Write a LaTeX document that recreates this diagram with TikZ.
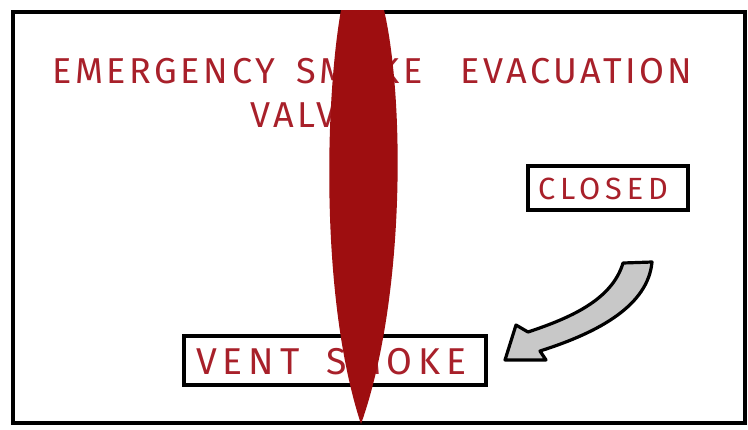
\documentclass[tikz,border=0pt]{standalone}
\usepackage{fontspec}
\setmainfont{Fira Sans}
\definecolor{inkred}{HTML}{A8202A}
\definecolor{spindle}{HTML}{9E0E10}
\definecolor{arrowgray}{HTML}{C8C8C8}
\begin{document}
\begin{tikzpicture}[x=0.75pt,y=-0.75pt,
  frame/.style={draw=black,line width=2.6pt},
  boxline/.style={draw=black,fill=white,line width=2.6pt},
  redtext/.style={text=inkred,inner sep=0pt}]
\useasboundingbox (0,0) rectangle (748,429);
\fill[white] (0,0) rectangle (748,429);
% frame
\draw[frame] (13,423) -- (13,12) -- (745,12) -- (745,423) -- cycle;
% title
\node[redtext,anchor=west] (title) at (52,71)
  {\fontsize{27}{32}\selectfont\addfontfeatures{LetterSpace=10}EMERGENCY\hspace{16pt}SMOKE\hspace{28pt}EVACUATION};
\node[redtext,anchor=west] (title2) at (250,115)
  {\fontsize{27}{32}\selectfont\addfontfeatures{LetterSpace=10}VALVE};
% closed box
\draw[boxline] (528,166) rectangle (688,210);
\node[redtext] (closed) at (603,189)
  {\fontsize{23}{27}\selectfont\addfontfeatures{LetterSpace=16}CLOSED};
% vent smoke box
\draw[boxline] (184,336) rectangle (486,385);
\node[redtext,anchor=west] (vent) at (196,362)
  {\fontsize{28}{32}\selectfont\addfontfeatures{LetterSpace=16}VENT\hspace{20pt}SMOKE};
% gray arrow
\draw[line width=2.4pt,fill=arrowgray,line join=round]
  (623,263) .. controls (612,300) and (570,318) .. (528,332)
  -- (516,325) -- (505,360) -- (546,360) -- (540,351)
  .. controls (600,332) and (648,305) .. (652,262) -- cycle;
% red spindle
\fill[spindle] (341,10) .. controls (325,100) and (320,300) .. (361,424)
  .. controls (405,300) and (405,100) .. (384,10) -- cycle;
\end{tikzpicture}
\end{document}
